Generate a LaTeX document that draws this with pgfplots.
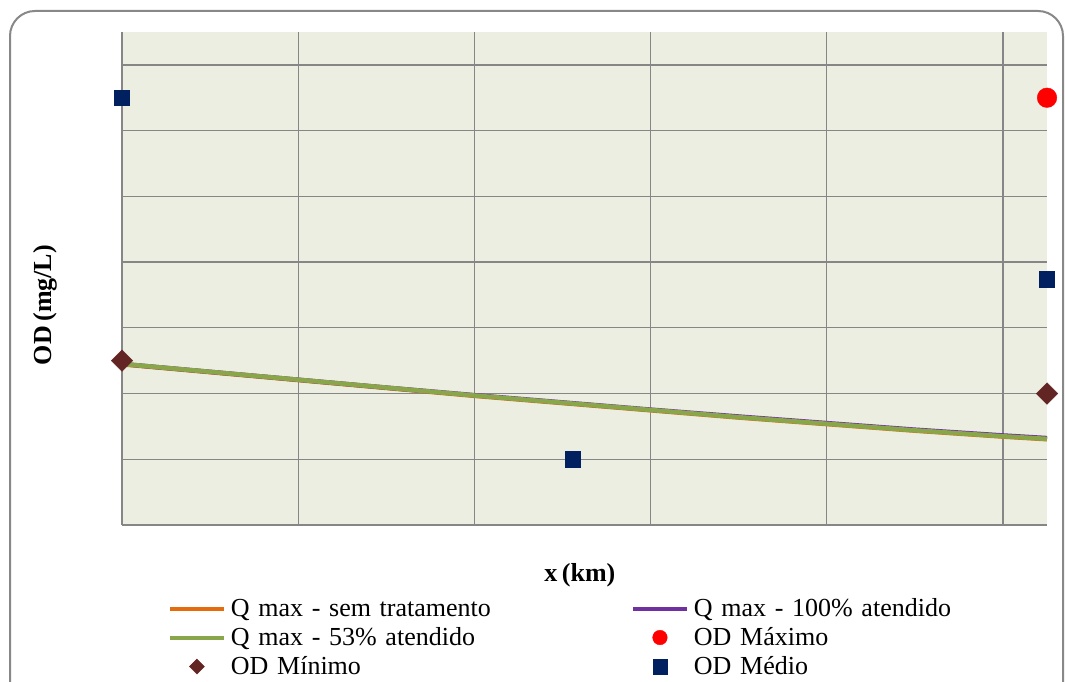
\documentclass[border=0pt]{standalone}
\usepackage{pgfplots}
\pgfplotsset{compat=1.18}
\usepackage{fontspec}
\setmainfont[WordSpace=0.7]{Liberation Serif}
\definecolor{bgc}{RGB}{235,238,224}
\definecolor{gridc}{RGB}{134,134,134}
\definecolor{bordc}{RGB}{136,136,136}
\definecolor{qorange}{RGB}{228,108,10}
\definecolor{qpurple}{RGB}{112,48,160}
\definecolor{qgreen}{RGB}{137,166,74}
\definecolor{odmin}{RGB}{99,37,35}
\definecolor{odmed}{RGB}{0,32,96}
\definecolor{odmax}{RGB}{255,0,0}
\begin{document}
\begin{tikzpicture}
\useasboundingbox (0,0) rectangle (1065pt,682pt);
\begin{scope}
\clip (0,0) rectangle (1065pt,682pt);
\draw[line width=2pt, color=bordc, rounded corners=25pt] (10pt,-40pt) rectangle (1063pt,671pt);
\end{scope}
\begin{axis}[
  at={(122pt,157pt)}, anchor=south west,
  scale only axis, width=925pt, height=493pt,
  xmin=0, xmax=52.5, ymin=0, ymax=7.5,
  xtick={0,10,...,50}, ytick={0,1,...,7},
  xticklabels={}, yticklabels={},
  major tick length=0pt,
  grid=major, major grid style={gridc, line width=1.3pt},
  axis line style={draw=none},
  axis background/.style={fill=bgc},
  clip=false,
  xlabel={\textbf{x (km)}},
  ylabel={\textbf{OD (mg/L)}},
  label style={font=\fontsize{26}{30}\selectfont},
  xlabel style={at={(axis description cs:0.495,-0.101)}, anchor=center},
  ylabel style={at={(axis description cs:-0.083,0.446)}, anchor=center},
  legend columns=2,
  legend cell align=left,
  legend style={
    at={(rel axis cs:0.0497,-0.140)}, anchor=north west,
    draw=none, fill=none, inner sep=0pt, outer sep=0pt,
    row sep=0pt,
    font=\fontsize{26}{29}\selectfont,
    nodes={inner sep=0pt, outer sep=0pt, text width=400pt, align=left, text height=22pt, text depth=7pt, anchor=west},
    /tikz/every odd column/.append style={column sep=5pt},
    /tikz/every even column/.append style={column sep=0pt},
  },
]
\addplot[qorange, line width=4.5pt, legend image code/.code={\draw[line width=4pt] (0pt,0pt) -- (54pt,0pt);}] coordinates {
(0,2.445) (5,2.325) (10,2.205) (15,2.085) (20,1.965) (25,1.855) (30,1.745) (35,1.635) (40,1.535) (45,1.435) (50,1.345) (52.5,1.305)};
\addlegendentry{Q max - sem tratamento}
\addplot[qpurple, line width=4.5pt, legend image code/.code={\draw[line width=4pt] (0pt,0pt) -- (54pt,0pt);}] coordinates {
(0,2.45) (5,2.33) (10,2.21) (15,2.09) (20,1.975) (25,1.865) (30,1.755) (35,1.65) (40,1.55) (45,1.45) (50,1.362) (52.5,1.322)};
\addlegendentry{Q max - 100\% atendido}
\addplot[qgreen, line width=4.5pt, legend image code/.code={\draw[line width=4pt] (0pt,0pt) -- (54pt,0pt);}] coordinates {
(0,2.45) (5,2.33) (10,2.21) (15,2.09) (20,1.97) (25,1.86) (30,1.75) (35,1.64) (40,1.54) (45,1.44) (50,1.35) (52.5,1.31)};
\addlegendentry{Q max - 53\% atendido}
\addplot[only marks, mark=*, mark size=9.8pt, color=odmax, mark options={fill=odmax, draw=odmax},
  legend image code/.code={\draw[mark size=7.3pt] plot coordinates {(27pt,0pt)};}] coordinates {(52.5,6.5)};
\addlegendentry{OD Máximo}
\addplot[only marks, mark=square*, mark size=7.6pt, color=odmin, mark options={fill=odmin, draw=odmin, rotate=45},
  legend image code/.code={\draw[mark size=5.3pt] plot coordinates {(27pt,0pt)};}] coordinates {(0,2.5) (52.5,2.0)};
\addlegendentry{OD Mínimo}
\addplot[only marks, mark=square*, mark size=7.6pt, color=odmed, mark options={fill=odmed, draw=odmed},
  legend image code/.code={\draw[mark size=7.2pt] plot coordinates {(27pt,0pt)};}] coordinates {(0,6.5) (25.6,1.0) (52.5,3.74)};
\addlegendentry{OD Médio}
\end{axis}
\end{tikzpicture}
\end{document}
